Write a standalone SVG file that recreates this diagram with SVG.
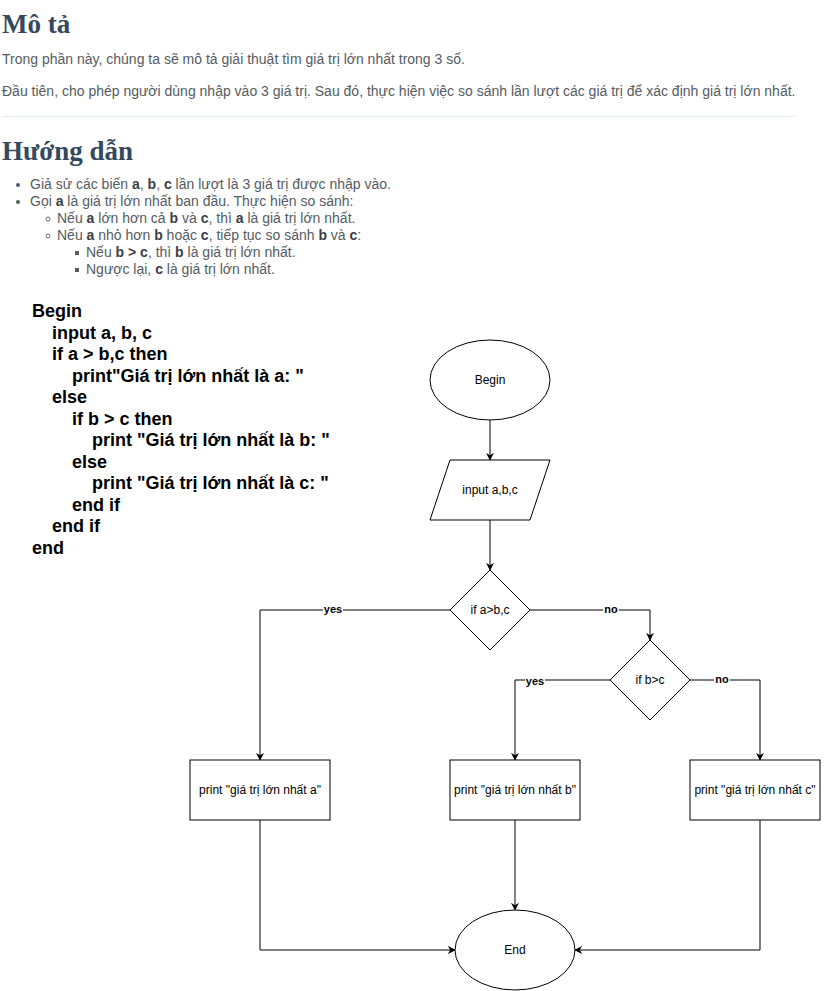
<svg xmlns="http://www.w3.org/2000/svg" width="830" height="991" viewBox="0 0 830 991">
<defs>
<style>
.h{font-family:"Liberation Serif","Times New Roman",serif;font-weight:bold;font-size:27px;fill:#34495e}
.p{font-family:"Liberation Sans",Arial,sans-serif;font-size:14px;fill:#555b61}
.p tspan.b{font-weight:bold;fill:#3a4046}
.code{font-family:"Liberation Sans",Arial,sans-serif;font-weight:bold;font-size:18px;fill:#000}
.shape{fill:#fff;stroke:#000;stroke-width:1}
.lbl{font-family:"Liberation Sans",Arial,sans-serif;font-size:12px;fill:#000;text-anchor:middle}
.edge{fill:none;stroke:#000;stroke-width:1}
.el{font-family:"Liberation Sans",Arial,sans-serif;font-size:11px;font-weight:bold;fill:#000;text-anchor:middle}
.elbg{fill:#fff}
</style>
<marker id="arr" viewBox="0 0 10 10" refX="9" refY="5" markerWidth="8" markerHeight="8" markerUnits="userSpaceOnUse" orient="auto">
<path d="M0,0 L10,5 L0,10 L3,5 Z" fill="#000"/>
</marker>
</defs>
<rect width="830" height="991" fill="#fff"/>

<g id="text-top">
<text class="h" x="2" y="33">Mô tả</text>
<text class="p" x="2" y="64">Trong phần này, chúng ta sẽ mô tả giải thuật tìm giá trị lớn nhất trong 3 số.</text>
<text class="p" x="2" y="96">Đầu tiên, cho phép người dùng nhập vào 3 giá trị. Sau đó, thực hiện việc so sánh lần lượt các giá trị để xác định giá trị lớn nhất.</text>
<line x1="2" y1="116.5" x2="795" y2="116.5" stroke="#e3e8ec" stroke-width="1"/>
<text class="h" x="2" y="160">Hướng dẫn</text>
<circle cx="18" cy="185" r="2" fill="#555b61"/>
<text class="p" x="30" y="189">Giả sử các biến <tspan class="b">a</tspan>, <tspan class="b">b</tspan>, <tspan class="b">c</tspan> lần lượt là 3 giá trị được nhập vào.</text>
<circle cx="18" cy="202" r="2" fill="#555b61"/>
<text class="p" x="30" y="206">Gọi <tspan class="b">a</tspan> là giá trị lớn nhất ban đầu. Thực hiện so sánh:</text>
<circle cx="48" cy="219" r="2" fill="none" stroke="#555b61" stroke-width="0.9"/>
<text class="p" x="57" y="223">Nếu <tspan class="b">a</tspan> lớn hơn cả <tspan class="b">b</tspan> và <tspan class="b">c</tspan>, thì <tspan class="b">a</tspan> là giá trị lớn nhất.</text>
<circle cx="48" cy="236" r="2" fill="none" stroke="#555b61" stroke-width="0.9"/>
<text class="p" x="57" y="240">Nếu <tspan class="b">a</tspan> nhỏ hơn <tspan class="b">b</tspan> hoặc <tspan class="b">c</tspan>, tiếp tục so sánh <tspan class="b">b</tspan> và <tspan class="b">c</tspan>:</text>
<rect x="75" y="251" width="4" height="4" fill="#555b61"/>
<text class="p" x="86" y="257">Nếu <tspan class="b">b &gt; c</tspan>, thì <tspan class="b">b</tspan> là giá trị lớn nhất.</text>
<rect x="75" y="268" width="4" height="4" fill="#555b61"/>
<text class="p" x="86" y="274">Ngược lại, <tspan class="b">c</tspan> là giá trị lớn nhất.</text>
</g>

<g id="pseudocode">
<text class="code" x="32" y="317">Begin</text>
<text class="code" x="52" y="338.5">input a, b, c</text>
<text class="code" x="52" y="360">if a &gt; b,c then</text>
<text class="code" x="72" y="381.5">print"Giá trị lớn nhất là a: "</text>
<text class="code" x="52" y="403">else</text>
<text class="code" x="72" y="424.5">if b &gt; c then</text>
<text class="code" x="92" y="446">print "Giá trị lớn nhất là b: "</text>
<text class="code" x="72" y="467.5">else</text>
<text class="code" x="92" y="489">print "Giá trị lớn nhất là c: "</text>
<text class="code" x="72" y="510.5">end if</text>
<text class="code" x="52" y="532">end if</text>
<text class="code" x="32" y="553.5">end</text>
</g>

<g id="connectors">
<path class="edge" d="M490,420 L490,460" marker-end="url(#arr)"/>
<path class="edge" d="M490,520 L490,570" marker-end="url(#arr)"/>
<path class="edge" d="M450,610 L260,610 L260,760" marker-end="url(#arr)"/>
<path class="edge" d="M530,610 L650,610 L650,640" marker-end="url(#arr)"/>
<path class="edge" d="M610,680 L515,680 L515,760" marker-end="url(#arr)"/>
<path class="edge" d="M690,680 L760,680 L760,760" marker-end="url(#arr)"/>
<path class="edge" d="M260,820 L260,950 L455,950" marker-end="url(#arr)"/>
<path class="edge" d="M515,820 L515,910" marker-end="url(#arr)"/>
<path class="edge" d="M760,820 L760,950 L575,950" marker-end="url(#arr)"/>
<rect class="elbg" x="323" y="603" width="20" height="13"/>
<text class="el" x="333" y="613">yes</text>
<rect class="elbg" x="603" y="603" width="16" height="13"/>
<text class="el" x="611" y="613">no</text>
<rect class="elbg" x="525" y="674" width="20" height="13"/>
<text class="el" x="535" y="685">yes</text>
<rect class="elbg" x="714" y="673" width="16" height="13"/>
<text class="el" x="722" y="683">no</text>
</g>

<g id="begin">
<ellipse class="shape" cx="490" cy="380" rx="60" ry="40"/>
<text class="lbl" x="490" y="384">Begin</text>
</g>
<g id="input">
<polygon class="shape" points="450,460 550,460 530,520 430,520"/>
<text class="lbl" x="490" y="494">input a,b,c</text>
</g>
<g id="cond1">
<polygon class="shape" points="490,570 530,610 490,650 450,610"/>
<text class="lbl" x="490" y="614">if a&gt;b,c</text>
</g>
<g id="cond2">
<polygon class="shape" points="650,640 690,680 650,720 610,680"/>
<text class="lbl" x="650" y="684">if b&gt;c</text>
</g>
<g id="printA">
<rect class="shape" x="190" y="760" width="140" height="60"/>
<text class="lbl" x="260" y="794">print "giá trị lớn nhất a"</text>
</g>
<g id="printB">
<rect class="shape" x="450" y="760" width="130" height="60"/>
<text class="lbl" x="515" y="794">print "giá trị lớn nhất b"</text>
</g>
<g id="printC">
<rect class="shape" x="690" y="760" width="130" height="60"/>
<text class="lbl" x="755" y="794">print "giá trị lớn nhất c"</text>
</g>
<g id="end">
<ellipse class="shape" cx="515" cy="950" rx="60" ry="40"/>
<text class="lbl" x="515" y="954">End</text>
</g>
</svg>
